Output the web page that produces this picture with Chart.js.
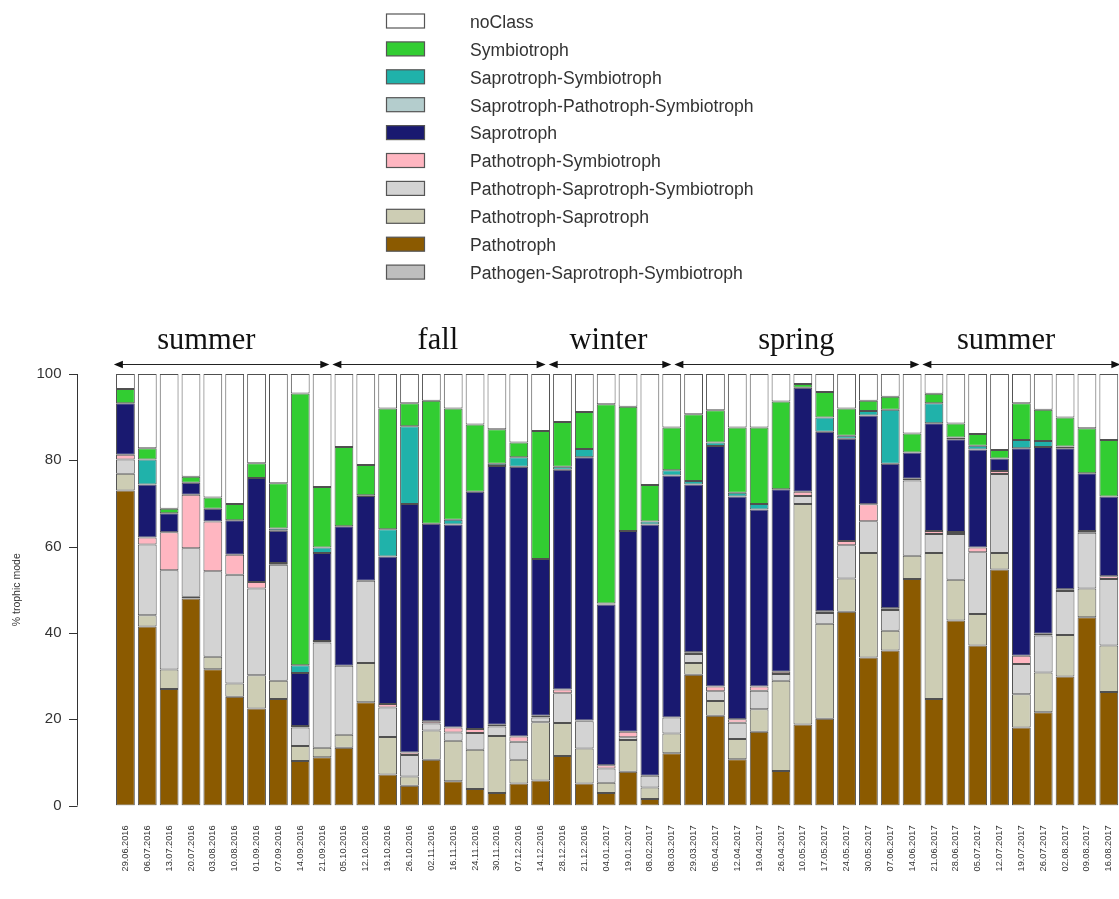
<!DOCTYPE html>
<html><head><meta charset="utf-8">
<script src="https://cdn.jsdelivr.net/npm/chart.js@4"></script>
<style>html,body{margin:0;padding:0;overflow:hidden;background:#fff}canvas{display:block}</style>
</head><body>
<canvas id="c" width="1140" height="899"></canvas>
<script>
const dates = ['29.06.2016','06.07.2016','13.07.2016','20.07.2016','03.08.2016','10.08.2016','01.09.2016','07.09.2016','14.09.2016','21.09.2016',
 '05.10.2016','12.10.2016','19.10.2016','26.10.2016','02.11.2016','16.11.2016','24.11.2016','30.11.2016','07.12.2016','14.12.2016',
 '28.12.2016','21.12.2016','04.01.2017','19.01.2017','08.02.2017','08.03.2017','29.03.2017','05.04.2017','12.04.2017','19.04.2017',
 '26.04.2017','10.05.2017','17.05.2017','24.05.2017','30.05.2017','07.06.2017','14.06.2017','21.06.2017','28.06.2017','05.07.2017',
 '12.07.2017','19.07.2017','26.07.2017','02.08.2017','09.08.2017','16.08.2017'];

const pathogenSapSym = [0,0,0,0,0,0,0,0,0,0, 0,0,0,0,0,0,0,0,0,0, 0,0,0,0,0,0,0,0,0,0, 0,0,0,0,0,0,0,0,0,0, 0,0,0,0,0,0];
const pathotroph = [73,41.5,27,48,31.6,25.2,22.5,24.7,10.3,11.2, 13.4,23.9,7.2,4.6,10.6,5.6,3.8,2.9,5.1,5.8, 11.5,5.1,2.9,7.8,1.5,12.1,30.3,20.8,10.7,17.1, 8.0,18.8,20.1,44.9,34.3,35.9,52.5,24.7,42.9,37.1, 54.7,18.1,21.6,29.9,43.6,26.3];
const pathoSap = [3.9,2.6,4.5,0.4,2.9,3.1,7.7,4.2,3.5,2.2, 3.0,9.1,8.7,2.1,6.8,9.4,9.1,13.2,5.5,13.5, 7.6,8.1,2.4,7.4,2.7,4.6,2.7,3.4,4.7,5.2, 20.9,51.1,22,7.7,24.2,4.6,5.4,33.8,9.4,7.3, 3.8,7.7,9.2,9.6,6.7,10.8];
const pathoSapSym = [3.3,16.4,23,11.2,19.8,25.2,20.1,26.9,4.3,24.4, 16.0,19.1,6.8,5.0,1.6,1.9,3.9,2.2,4.2,1.1, 6.9,6.3,3.3,0.6,2.7,3.7,2.1,2.3,3.8,4.3, 1.6,1.8,2.5,7.7,7.4,4.8,17.4,4.4,10.6,14.3, 18.3,7.0,8.6,10.2,12.9,15.4];
const pathoSym = [1.1,1.6,8.8,12.4,11.5,4.6,1.5,0.4,0.3,0.3, 0,0,0.8,0.6,0.5,1.2,0.9,0.4,1.2,0.4, 0.9,0.2,0.7,1.3,0,0,0.4,1.1,0.8,1.0, 0.5,1.0,0.4,1.0,3.9,0.4,0.4,0.7,0.5,1.1, 0.7,1.9,0.4,0.4,0.4,0.6];
const saprotroph = [11.9,12.3,4.4,2.8,3.0,8.0,24.1,7.5,12.3,20.4, 32.3,19.6,34.2,57.6,45.8,47,55,60,62.5,36.3, 50.9,61,37.3,46.5,58.2,56.1,38.9,55.7,51.6,41, 42.3,24.1,41.6,23.7,20.6,33.5,6.1,25.0,21.5,22.7, 2.9,48.1,43.3,32.7,13.4,18.5];
const sapPathoSym = [0,0,0,0,0,0,0,0,0,0, 0,0,0,0,0,0,0,0,0,0, 0,0,0,0,0,0,0,0,0,0, 0,0,0,0,0,0,0,0,0,0, 0,0,0,0,0,0];
const sapSym = [0,5.8,0,0,0,0,0,0.5,1.8,1.3, 0,0.2,6.3,18.0,0,1.1,0,0.5,2.2,0, 0.7,1.9,0.2,0,0.7,1.2,0.8,0.8,0.9,1.3, 0,0,3.3,0.7,1.0,12.5,0,4.6,0.4,0.9, 0,1.9,1.4,0.4,0,0];
const symbiotroph = [3.3,2.6,1.1,1.4,2.6,3.8,3.4,10.5,63,14, 18.4,7.0,28,5.3,28.5,25.8,15.6,8,3.4,29.7, 10.4,8.6,46.2,28.8,8.5,9.9,15.5,7.5,15.1,17.7, 20.3,0.9,5.9,6.3,2.4,3.0,4.4,2.2,3.2,2.7, 2.0,8.5,7.2,6.7,10.4,13.1];
const noClass = [3.5,17.2,31.2,23.8,28.6,30.1,20.7,25.3,4.5,26.2, 16.9,21.1,8,6.8,6.2,8,11.7,12.8,15.9,13.2, 11.1,8.8,7.0,7.6,25.7,12.4,9.3,8.4,12.4,12.4, 6.4,2.3,4.2,8.0,6.2,5.3,13.8,4.6,11.5,13.9, 17.6,6.8,8.3,10.1,12.6,15.3];

const seasonNames = ['summer','fall','winter','spring','summer'];
const seasonBounds = [-0.6, 9.4, 19.3, 25.05, 36.4, 45.6];
const seasonLabelAt = [3.7, 14.3, 22.1, 30.7, 40.3];
const yTicks = [0,20,40,60,80,100];

const seriesList = [
  ['Pathogen-Saprotroph-Symbiotroph', pathogenSapSym, '#BEBEBE'],
  ['Pathotroph', pathotroph, '#8B5A00'],
  ['Pathotroph-Saprotroph', pathoSap, '#CDCDB4'],
  ['Pathotroph-Saprotroph-Symbiotroph', pathoSapSym, '#D3D3D3'],
  ['Pathotroph-Symbiotroph', pathoSym, '#FFB6C1'],
  ['Saprotroph', saprotroph, '#191970'],
  ['Saprotroph-Pathotroph-Symbiotroph', sapPathoSym, '#B4CDCD'],
  ['Saprotroph-Symbiotroph', sapSym, '#20B2AA'],
  ['Symbiotroph', symbiotroph, '#32CD32'],
  ['noClass', noClass, '#FFFFFF']
];

const SANS = '"Liberation Sans", Arial, Helvetica, sans-serif';
Chart.defaults.font.family = SANS;

const boxLegend = {
  id: 'boxLegend',
  afterDraw(chart) {
    const ctx = chart.ctx;
    const ds = chart.data.datasets.slice().reverse();
    ctx.save();
    ds.forEach((d, k) => {
      const cy = 21 + k * 27.9;
      ctx.fillStyle = d.backgroundColor;
      ctx.fillRect(386.5, cy - 7, 38, 14);
      ctx.strokeStyle = '#555';
      ctx.lineWidth = 1.2;
      ctx.strokeRect(386.5, cy - 7, 38, 14);
      ctx.fillStyle = '#333';
      ctx.font = '17.6px ' + SANS;
      ctx.textBaseline = 'middle';
      ctx.textAlign = 'left';
      ctx.fillText(d.label, 470, cy + 2);
    });
    ctx.restore();
  }
};

const yAxisLine = {
  id: 'yAxisLine',
  afterDraw(chart) {
    const ctx = chart.ctx, y = chart.scales.y;
    ctx.save();
    ctx.strokeStyle = '#333';
    ctx.lineWidth = 1;
    ctx.beginPath();
    ctx.moveTo(77.5, y.getPixelForValue(0));
    ctx.lineTo(77.5, y.getPixelForValue(100));
    yTicks.forEach(v => {
      const py = Math.round(y.getPixelForValue(v)) + 0.5;
      ctx.moveTo(69, py); ctx.lineTo(77.5, py);
    });
    ctx.stroke();
    ctx.restore();
  }
};

const seasons = {
  id: 'seasons',
  afterDraw(chart) {
    const ctx = chart.ctx, x = chart.scales.x;
    const yLine = 364.5, gap = 0.07, hl = 9, hh = 3.8;
    ctx.save();
    ctx.strokeStyle = '#222'; ctx.fillStyle = '#111'; ctx.lineWidth = 1.1;
    seasonNames.forEach((name, k) => {
      const x1 = x.getPixelForValue(seasonBounds[k] + gap);
      const x2 = x.getPixelForValue(seasonBounds[k + 1] - gap);
      ctx.beginPath(); ctx.moveTo(x1 + 2, yLine); ctx.lineTo(x2 - 2, yLine); ctx.stroke();
      ctx.beginPath(); ctx.moveTo(x1, yLine); ctx.lineTo(x1 + hl, yLine - hh); ctx.lineTo(x1 + hl, yLine + hh); ctx.closePath(); ctx.fill();
      ctx.beginPath(); ctx.moveTo(x2, yLine); ctx.lineTo(x2 - hl, yLine - hh); ctx.lineTo(x2 - hl, yLine + hh); ctx.closePath(); ctx.fill();
      const cx = x.getPixelForValue(seasonLabelAt[k]);
      ctx.font = '30.5px "Liberation Serif", "Times New Roman", serif';
      ctx.textAlign = 'center'; ctx.textBaseline = 'alphabetic';
      ctx.fillText(name, cx, 348.5);
    });
    ctx.restore();
  }
};

new Chart(document.getElementById('c'), {
  type: 'bar',
  data: {
    labels: dates,
    datasets: seriesList.map(([label, data, color]) => ({
      label, data, backgroundColor: color, borderColor: '#505050', borderWidth: 1,
      borderSkipped: false, categoryPercentage: 1, barPercentage: 0.86
    }))
  },
  options: {
    responsive: false, animation: false, devicePixelRatio: 1,
    layout: { padding: { top: 374, right: 15.8, left: 0, bottom: 0 } },
    plugins: { legend: { display: false }, tooltip: { enabled: false } },
    scales: {
      x: {
        stacked: true, offset: true,
        grid: { display: false, drawTicks: false }, border: { display: false },
        ticks: { autoSkip: false, minRotation: 90, maxRotation: 90, padding: 20, color: '#333', font: { size: 9.2 } },
        afterFit: s => { s.height = 93.5; }
      },
      y: {
        stacked: true, min: 0, max: 100,
        grid: { display: false, drawTicks: false }, border: { display: false },
        ticks: { stepSize: 20, padding: 53, color: '#333', font: { size: 15 } },
        title: { display: true, text: '% trophic mode', color: '#333', font: { size: 10.5 }, padding: { top: 10.7, bottom: 0 } },
        afterFit: s => { s.width = 114.5; }
      }
    }
  },
  plugins: [boxLegend, yAxisLine, seasons]
});
</script>
</body></html>
